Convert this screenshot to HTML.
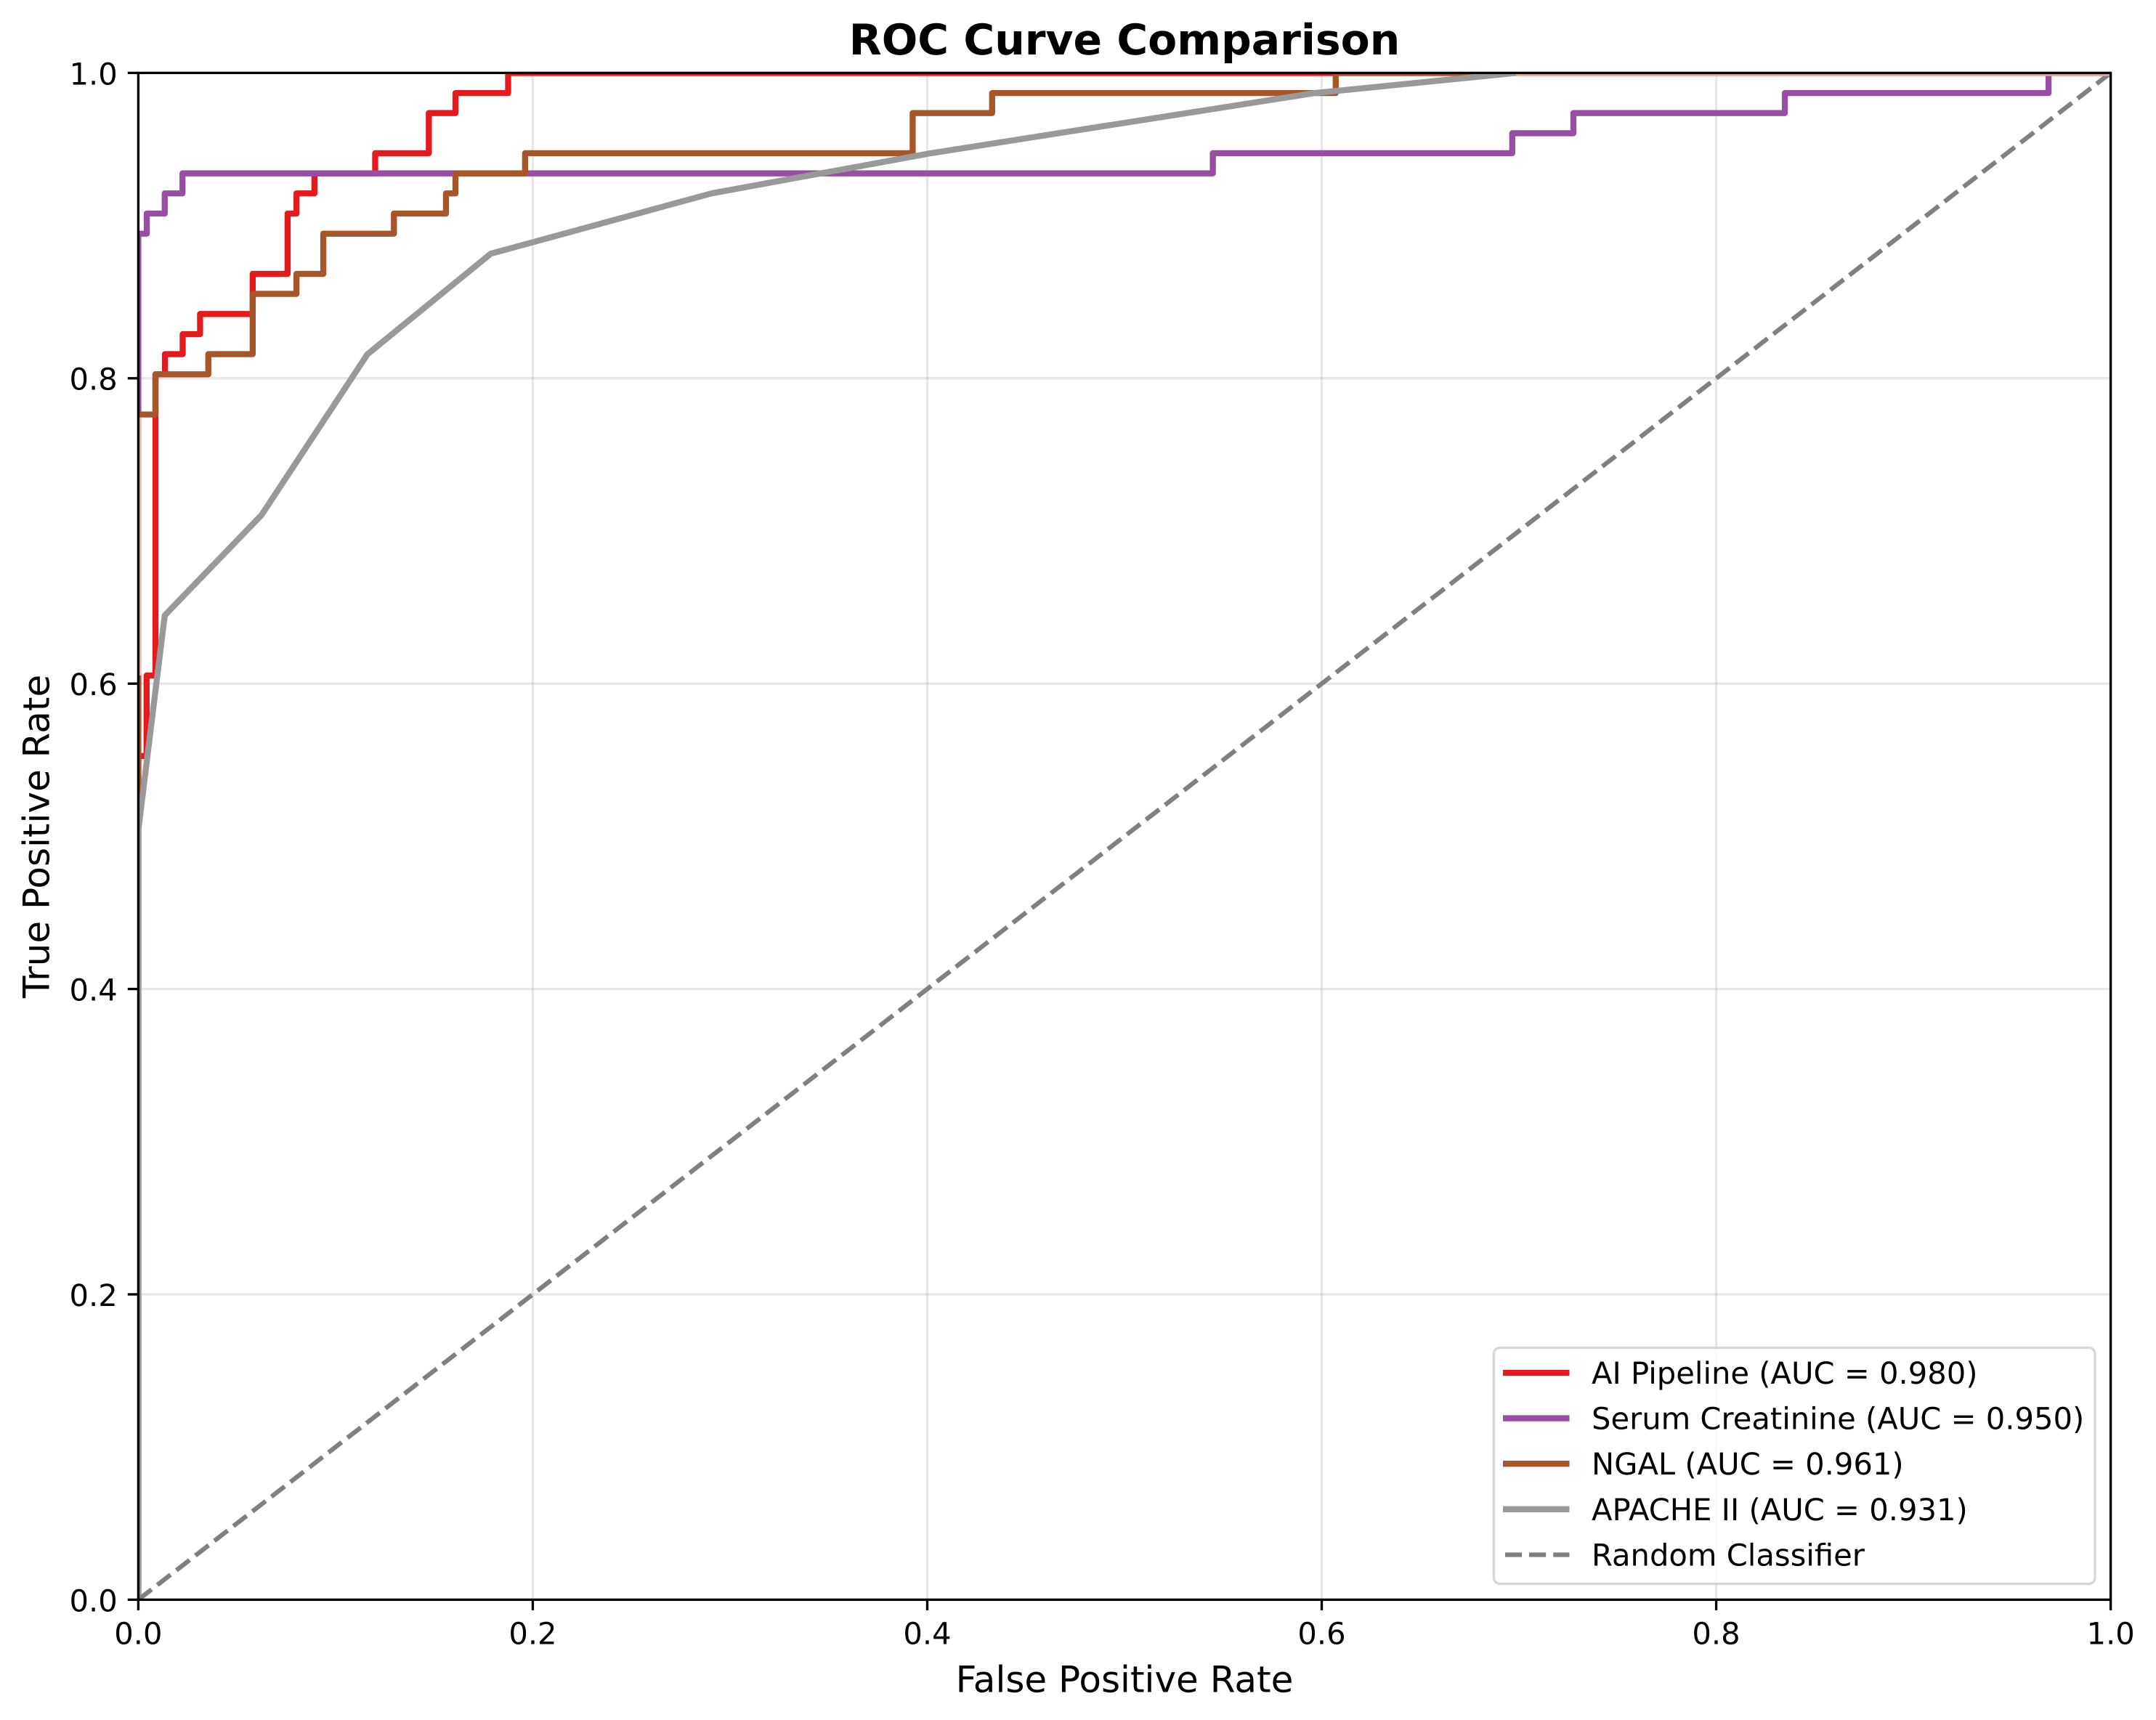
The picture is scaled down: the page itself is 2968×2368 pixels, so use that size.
<!DOCTYPE html>
<html lang="en">
<head>
<meta charset="utf-8">
<title>ROC Curve Comparison</title>
<style>
html,body{margin:0;padding:0;background:#fff;width:2968px;height:2368px;overflow:hidden}
svg{display:block}
text{font-family:"DejaVu Sans","Liberation Sans",sans-serif;fill:#000;text-rendering:geometricPrecision}
</style>
</head>
<body>
<svg id="chart" xmlns="http://www.w3.org/2000/svg" width="2968" height="2368" viewBox="0 0 2968 2368">
  <rect x="0" y="0" width="2968" height="2368" fill="#ffffff"/>
  <defs><clipPath id="plot-clip"><rect x="190.4" y="100.4" width="2715.2" height="2102"/></clipPath></defs>
  <g id="grid"></g>
  <g id="series" clip-path="url(#plot-clip)"></g>
  <rect id="top-strip" y="102.2" height="2.3" fill="#ebb3aa"/>
  <rect id="left-strip" x="192" width="2.6" fill="#e8bdb8"/>
  <rect x="190.4" y="100.4" width="2715.2" height="2102" fill="none" stroke="#000" stroke-width="3.33"/>
  <g id="ticks"></g>
  <text x="1548" y="75" font-size="58.33" font-weight="700" text-anchor="middle">ROC Curve Comparison</text>
  <text x="1548" y="2329.3" font-size="50" text-anchor="middle">False Positive Rate</text>
  <text transform="translate(67.5 1151.4) rotate(-90)" font-size="50" text-anchor="middle">True Positive Rate</text>
  <g>
    <rect x="2056.5" y="1855.5" width="827.5" height="325" rx="8.3" ry="8.3" fill="#ffffff" fill-opacity="0.8" stroke="#cccccc" stroke-opacity="0.8" stroke-width="3.33"/>
    <g>
      <line x1="2069" y1="1890" x2="2160.5" y2="1890" stroke="#e41a1c" stroke-width="8.33"/>
      <text x="2191" y="1905" font-size="41.67">AI Pipeline (AUC = 0.980)</text>
    </g>
    <g>
      <line x1="2069" y1="1952.6" x2="2160.5" y2="1952.6" stroke="#984ea3" stroke-width="8.33"/>
      <text x="2191" y="1967.6" font-size="41.67">Serum Creatinine (AUC = 0.950)</text>
    </g>
    <g>
      <line x1="2069" y1="2015.2" x2="2160.5" y2="2015.2" stroke="#a65628" stroke-width="8.33"/>
      <text x="2191" y="2030.2" font-size="41.67">NGAL (AUC = 0.961)</text>
    </g>
    <g>
      <line x1="2069" y1="2077.8" x2="2160.5" y2="2077.8" stroke="#999999" stroke-width="8.33"/>
      <text x="2191" y="2092.8" font-size="41.67">APACHE II (AUC = 0.931)</text>
    </g>
    <g>
      <line x1="2072" y1="2140.5" x2="2160.5" y2="2140.5" stroke="#808080" stroke-width="6.25" stroke-dasharray="23.1 10"/>
      <text x="2191" y="2155.5" font-size="41.67">Random Classifier</text>
    </g>
  </g>
</svg>
<script>
const xTicks = [0, 0.2, 0.4, 0.6, 0.8, 1];
const yTicks = [0, 0.2, 0.4, 0.6, 0.8, 1];
const xTickLabels = ['0.0', '0.2', '0.4', '0.6', '0.8', '1.0'];
const yTickLabels = ['0.0', '0.2', '0.4', '0.6', '0.8', '1.0'];

const aiPipelineFpr = [0, 0.0042, 0.0087, 0.0135, 0.0225, 0.0313, 0.058, 0.0757, 0.0802, 0.0893, 0.1201, 0.1473, 0.1608, 0.1875];
const aiPipelineTpr = [0.5526, 0.6053, 0.8026, 0.8158, 0.8289, 0.8421, 0.8684, 0.9079, 0.9211, 0.9342, 0.9474, 0.9737, 0.9868, 1];
const creatinineFpr = [0, 0.0043, 0.0134, 0.0224, 0.5448, 0.6966, 0.7276, 0.8348, 0.9685];
const creatinineTpr = [0.8947, 0.9079, 0.9211, 0.9342, 0.9474, 0.9605, 0.9737, 0.9868, 1];
const ngalFpr = [0, 0.0087, 0.0355, 0.058, 0.0802, 0.0938, 0.1296, 0.156, 0.1608, 0.1961, 0.3926, 0.4329, 0.6071];
const ngalTpr = [0.7763, 0.8026, 0.8158, 0.8553, 0.8684, 0.8947, 0.9079, 0.9211, 0.9342, 0.9474, 0.9737, 0.9868, 1];
const apacheFpr = [0, 0, 0.0134, 0.0625, 0.1162, 0.1787, 0.2906, 0.4018, 0.5964, 0.6985];
const apacheTpr = [0, 0.504, 0.6447, 0.7105, 0.8158, 0.8816, 0.9211, 0.9474, 0.9868, 1];
const randomFpr = [0, 1];
const randomTpr = [0, 1];

const SVG_NS = 'http://www.w3.org/2000/svg';
const plotLeft = 190.4, plotRight = 2905.6, plotTop = 100.4, plotBottom = 2202.4;
function sx(v) { return plotLeft + v * (plotRight - plotLeft); }
function sy(v) { return plotBottom - v * (plotBottom - plotTop); }
function make(tag, attrs, parent) {
  const el = document.createElementNS(SVG_NS, tag);
  for (const k in attrs) el.setAttribute(k, attrs[k]);
  parent.appendChild(el);
  return el;
}
function stepPath(xs, ys) {
  let d = 'M' + sx(0) + ' ' + sy(0);
  let prev = 0;
  xs.forEach(function (x, i) {
    d += 'L' + sx(x) + ' ' + sy(prev) + 'L' + sx(x) + ' ' + sy(ys[i]);
    prev = ys[i];
  });
  return d + 'L' + sx(1) + ' ' + sy(prev);
}
function polyPath(xs, ys) {
  return xs.map(function (x, i) { return (i ? 'L' : 'M') + sx(x) + ' ' + sy(ys[i]); }).join('');
}

const gridGroup = document.getElementById('grid');
const tickGroup = document.getElementById('ticks');
const seriesGroup = document.getElementById('series');
const tickLength = 14.6;

xTicks.forEach(function (v, i) {
  const g = make('line', { x1: sx(v), x2: sx(v), y1: plotTop, y2: plotBottom, stroke: '#b0b0b0', 'stroke-opacity': 0.3, 'stroke-width': 3.33 }, gridGroup);
  
  
  const t = make('line', { x1: sx(v), x2: sx(v), y1: plotBottom, y2: plotBottom + tickLength, stroke: '#000', 'stroke-width': 3.33 }, tickGroup);
  
  
  const l = make('text', { x: sx(v), y: 2263.3, 'font-size': 41.67, 'text-anchor': 'middle' }, tickGroup);
  
  
  l.textContent = xTickLabels[i];
});
yTicks.forEach(function (v, i) {
  const g = make('line', { x1: plotLeft, x2: plotRight, y1: sy(v), y2: sy(v), stroke: '#b0b0b0', 'stroke-opacity': 0.3, 'stroke-width': 3.33 }, gridGroup);
  
  
  const t = make('line', { x1: plotLeft - tickLength, x2: plotLeft, y1: sy(v), y2: sy(v), stroke: '#000', 'stroke-width': 3.33 }, tickGroup);
  
  
  const l = make('text', { x: 161.8, y: sy(v) + 15.9, 'font-size': 41.67, 'text-anchor': 'end' }, tickGroup);
  
  
  l.textContent = yTickLabels[i];
});

const solidStyle = { fill: 'none', 'stroke-width': 8.33, 'stroke-linejoin': 'round', 'stroke-linecap': 'square' };

const aiCurve = make('path', Object.assign({ d: stepPath(aiPipelineFpr, aiPipelineTpr), stroke: '#e41a1c' }, solidStyle), seriesGroup);



const creatinineCurve = make('path', Object.assign({ d: stepPath(creatinineFpr, creatinineTpr), stroke: '#984ea3' }, solidStyle), seriesGroup);



const ngalCurve = make('path', Object.assign({ d: stepPath(ngalFpr, ngalTpr), stroke: '#a65628' }, solidStyle), seriesGroup);



const apacheCurve = make('path', Object.assign({ d: polyPath(apacheFpr, apacheTpr), stroke: '#999999' }, solidStyle), seriesGroup);



const randomLine = make('path', { d: polyPath(randomFpr, randomTpr), stroke: '#808080', fill: 'none', 'stroke-width': 6.25, 'stroke-dasharray': '23.1 10' }, seriesGroup);



const topStrip = document.getElementById('top-strip');
topStrip.setAttribute('x', sx(apacheFpr[apacheFpr.length - 1]));
topStrip.setAttribute('width', plotRight - sx(apacheFpr[apacheFpr.length - 1]));

const leftStrip = document.getElementById('left-strip');
leftStrip.setAttribute('y', sy(ngalTpr[0]) + 4);
leftStrip.setAttribute('height', sy(aiPipelineTpr[1]) - sy(ngalTpr[0]) - 4);
</script>
</body>
</html>
